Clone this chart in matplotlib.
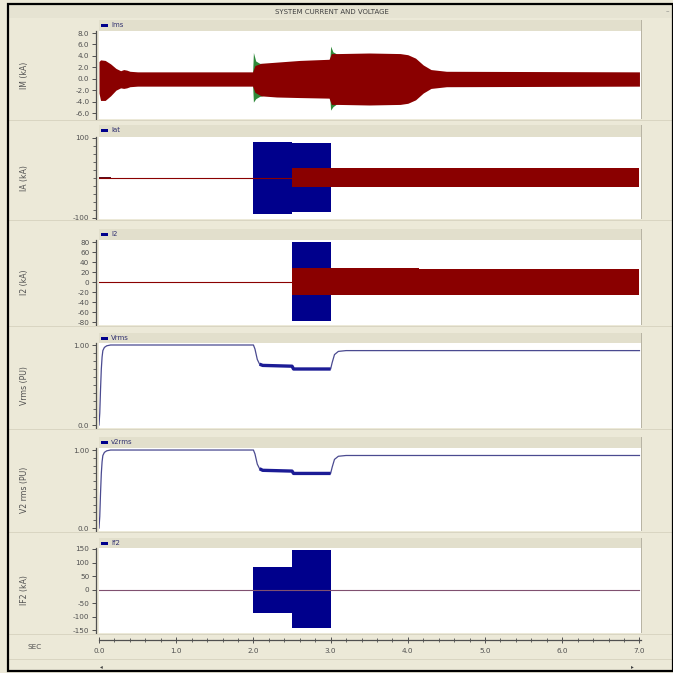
"""PSCAD-style stacked plot: system current and voltage."""
import matplotlib

matplotlib.use("Agg")
import matplotlib.pyplot as plt
from matplotlib.patches import Rectangle
from matplotlib.ticker import MultipleLocator

W = H = 673

# --- data ----------------------------------------------------------------
# IM envelope (kA)
t_im = [0.0, 0.02, 0.08, 0.15, 0.22, 0.28, 0.32, 0.36, 0.40, 0.5, 1.99,
        2.02, 2.1, 2.3, 2.6, 2.98, 3.01, 3.1, 3.5, 3.9, 4.0, 4.1, 4.2,
        4.3, 4.5, 7.0]
im_hi = [3.0, 3.3, 3.2, 2.6, 1.8, 1.4, 1.6, 1.5, 1.3, 1.2, 1.2,
         2.3, 2.7, 2.9, 3.2, 3.4, 4.4, 4.4, 4.5, 4.4, 4.2, 3.6, 2.4,
         1.6, 1.3, 1.2]
im_lo = [-2.5, -3.8, -3.8, -3.0, -2.0, -1.6, -1.7, -1.6, -1.4, -1.3, -1.3,
         -2.4, -3.0, -3.2, -3.3, -3.4, -4.5, -4.5, -4.6, -4.5, -4.3, -3.7, -2.5,
         -1.7, -1.4, -1.3]
# green transient spikes under IM
t_sp1 = [1.99, 2.0, 2.03, 2.08, 2.14]
sp1_hi = [1.2, 4.6, 3.1, 2.7, 2.6]
sp1_lo = [-1.3, -4.1, -3.5, -3.1, -2.9]
t_sp2 = [2.99, 3.0, 3.03, 3.07]
sp2_hi = [3.4, 5.7, 4.7, 4.4]
sp2_lo = [-3.4, -5.5, -4.9, -4.5]

# IA (kA)
t_ia_base = [0.0, 2.5]
ia_base = [0.0, 0.0]
t_ia_start = [0.0, 0.15]
ia_start_hi = [2.5, 2.5]
ia_start_lo = [-2.5, -2.5]
t_ia_blk = [2.0, 2.5, 2.5, 3.0]
ia_blk_hi = [91, 91, 88, 88]
ia_blk_lo = [-90, -90, -86, -86]
t_ia_band = [2.5, 3.85, 3.85, 7.0]
ia_band_hi = [24, 24, 24, 24]
ia_band_lo = [-22, -22, -23, -23]

# I2 (kA)
t_i2_base = [0.0, 2.5]
i2_base = [0.0, 0.0]
t_i2_blk = [2.5, 3.0]
i2_blk_hi = [80, 80]
i2_blk_lo = [-77, -77]
t_i2_band = [2.5, 4.15, 4.15, 7.0]
i2_band_hi = [28, 28, 26, 26]
i2_band_lo = [-26, -26, -25, -25]

# Vrms (PU)
t_v = [0.0, 0.01, 0.02, 0.03, 0.04, 0.05, 0.07, 0.1, 0.15, 2.0, 2.02, 2.05,
       2.08, 2.12, 2.5, 2.52, 3.0, 3.02, 3.05, 3.1, 3.2, 7.0]
vrms = [0.0, 0.15, 0.45, 0.7, 0.85, 0.93, 0.97, 0.99, 1.0, 1.0, 0.95, 0.82,
        0.76, 0.745, 0.735, 0.70, 0.70, 0.78, 0.88, 0.92, 0.93, 0.93]
v2rms = [0.0, 0.15, 0.45, 0.7, 0.85, 0.93, 0.97, 0.99, 1.0, 1.0, 0.95, 0.82,
         0.76, 0.74, 0.73, 0.70, 0.70, 0.78, 0.88, 0.92, 0.93, 0.93]

# IF2 (kA)
t_if_base = [0.0, 7.0]
if_base = [0.0, 0.0]
t_if_blk = [2.0, 2.5, 2.5, 3.0]
if_blk_hi = [85, 85, 148, 148]
if_blk_lo = [-87, -87, -142, -142]

x_ticks = [0, 1, 2, 3, 4, 5, 6, 7]
x_ticklabels = ["0.0", "1.0", "2.0", "3.0", "4.0", "5.0", "6.0", "7.0"]

RED = "#8a0000"
BLUE = "#00008c"
GREEN = "#2f8a3a"
BEIGE = "#ece9d8"
STRIP = "#e2dfcc"
TXT = "#505050"

fig = plt.figure(figsize=(W / 100, H / 100), dpi=100, facecolor=BEIGE)


def px_axes(x0, y0, x1, y1, **kw):
    return fig.add_axes([x0 / W, 1 - y1 / H, (x1 - x0) / W, (y1 - y0) / H], **kw)


def px_rect(x0, y0, x1, y1, **kw):
    r = Rectangle((x0 / W, 1 - y1 / H), (x1 - x0) / W, (y1 - y0) / H,
                  transform=fig.transFigure, **kw)
    fig.patches.append(r)
    return r


# title bar and frame
px_rect(9, 5, 672, 18, facecolor="#e6e3d2", edgecolor="none")
fig.text(332 / W, 1 - 11.5 / H, "SYSTEM CURRENT AND VOLTAGE", fontsize=5,
         color="#404040", ha="center", va="center")
fig.text(667 / W, 1 - 11.5 / H, "–", fontsize=5, color="#808080",
         ha="center", va="center")

panels = [
    # strip top, axes top, axes bottom, ylim, ticks, labels, minor, ylabel, legend
    (20, 31, 119, (-7.05, 8.35), [8, 6, 4, 2, 0, -2, -4, -6],
     ["8.0", "6.0", "4.0", "2.0", "0.0", "-2.0", "-4.0", "-6.0"], None,
     "IM (kA)", "Ims"),
    (125, 137, 219, (-102.5, 102.5), [100, -100], ["100", "-100"], 20,
     "IA (kA)", "Iat"),
    (229, 240, 325, (-86, 84), [80, 60, 40, 20, 0, -20, -40, -60, -80],
     ["80", "60", "40", "20", "0", "-20", "-40", "-60", "-80"], None,
     "I2 (kA)", "I2"),
    (333, 343, 428, (-0.0375, 1.025), [1.0, 0.0], ["1.00", "0.0"], 0.1,
     "Vrms (PU)", "Vrms"),
    (437, 448, 531, (-0.038, 1.026), [1.0, 0.0], ["1.00", "0.0"], 0.1,
     "V2 rms (PU)", "v2rms"),
    (538, 548, 633, (-161, 153.7), [150, 100, 50, 0, -50, -100, -150],
     ["150", "100", "50", "0", "-50", "-100", "-150"], None,
     "IF2 (kA)", "If2"),
]

axes = []
for k, (s_top, a_top, a_bot, ylim, ticks, labels, minor, ylab, leg) in enumerate(panels):
    # legend strip
    px_rect(99, s_top, 641, a_top, facecolor=STRIP, edgecolor="none")
    px_rect(101, s_top + 3.5, 108, s_top + 6.5, facecolor=BLUE, edgecolor="none")
    fig.text(111 / W, 1 - (s_top + 5) / H, leg, fontsize=5, color="#303070",
             ha="left", va="center")
    # separator below panel
    px_rect(9, a_bot + 1, 672, a_bot + 2.2, facecolor="#d9d5c2", edgecolor="none")
    # right border of plot
    px_rect(641, s_top, 642, a_bot, facecolor="#b8b4a4", edgecolor="none")

    ax = px_axes(99, a_top, 641, a_bot)
    ax.set_facecolor("white")
    ax.set_xlim(0, 7.02)
    ax.set_ylim(*ylim)
    ax.set_xticks([])
    for side in ("top", "right", "bottom"):
        ax.spines[side].set_visible(False)
    ax.spines["left"].set_color("#505050")
    ax.spines["left"].set_linewidth(0.9)
    ax.spines["left"].set_position(("outward", 2))
    ax.set_yticks(ticks)
    ax.set_yticklabels(labels)
    if minor:
        ax.yaxis.set_minor_locator(MultipleLocator(minor))
    ax.tick_params(axis="y", which="major", length=3, width=0.7, color="#505050",
                   labelsize=5.2, labelcolor=TXT, pad=2)
    ax.tick_params(axis="y", which="minor", length=2, width=0.6, color="#505050")
    fig.text(24 / W, 1 - (a_top + a_bot) / 2 / H, ylab, rotation=90,
             fontsize=5.6, color=TXT, ha="center", va="center")
    axes.append(ax)

ax1, ax2, ax3, ax4, ax5, ax6 = axes

# IM
ax1.fill_between(t_sp1, sp1_lo, sp1_hi, color=GREEN, lw=0)
ax1.fill_between(t_sp2, sp2_lo, sp2_hi, color=GREEN, lw=0)
ax1.fill_between(t_im, im_lo, im_hi, color=RED, lw=0)

# IA
ax2.fill_between(t_ia_blk, ia_blk_lo, ia_blk_hi, color=BLUE, lw=0)
ax2.fill_between(t_ia_band, ia_band_lo, ia_band_hi, color=RED, lw=0)
ax2.fill_between(t_ia_start, ia_start_lo, ia_start_hi, color="#5a1020", lw=0)
ax2.plot(t_ia_base, ia_base, color=RED, lw=0.8)

# I2
ax3.fill_between(t_i2_blk, i2_blk_lo, i2_blk_hi, color=BLUE, lw=0)
ax3.fill_between(t_i2_band, i2_band_lo, i2_band_hi, color=RED, lw=0)
ax3.plot(t_i2_base, i2_base, color=RED, lw=0.8)

# Vrms / V2rms: thin trace with thicker fault section (indices 12..16)
for ax, v in ((ax4, vrms), (ax5, v2rms)):
    ax.plot(t_v, v, color="#4a4a90", lw=0.9)
    ax.plot(t_v[12:17], v[12:17], color="#1c1c96", lw=2.4, solid_capstyle="butt")

# IF2
ax6.fill_between(t_if_blk, if_blk_lo, if_blk_hi, color=BLUE, lw=0)
ax6.plot(t_if_base, if_base, color="#805070", lw=0.8)

# time axis
axx = px_axes(99, 634, 641, 640)
axx.patch.set_visible(False)
axx.set_xlim(0, 7.02)
axx.set_yticks([])
for side in ("top", "right", "left"):
    axx.spines[side].set_visible(False)
axx.spines["bottom"].set_color("#505050")
axx.spines["bottom"].set_linewidth(0.9)
axx.set_xticks(x_ticks)
axx.set_xticklabels(x_ticklabels)
axx.xaxis.set_minor_locator(MultipleLocator(0.2))
axx.tick_params(axis="x", which="major", direction="inout", length=5, width=0.7,
                color="#505050", labelsize=5.2, labelcolor=TXT, pad=3)
axx.tick_params(axis="x", which="minor", direction="inout", length=2.5,
                width=0.6, color="#505050")
fig.text(35 / W, 1 - 647 / H, "SEC", fontsize=5.2, color=TXT,
         ha="center", va="center")

# scroll bar row
px_rect(9, 659, 672, 660, facecolor="#d9d5c2", edgecolor="none")
fig.text(101 / W, 1 - 667 / H, "◂", fontsize=4, color="#404040",
         ha="center", va="center")
fig.text(632 / W, 1 - 667 / H, "▸", fontsize=4, color="#404040",
         ha="center", va="center")

# outer black frame
px_rect(8, 4, 672.5, 671, facecolor="none", edgecolor="black", lw=1.6)

fig.savefig("out.png", dpi=100, facecolor=BEIGE)
